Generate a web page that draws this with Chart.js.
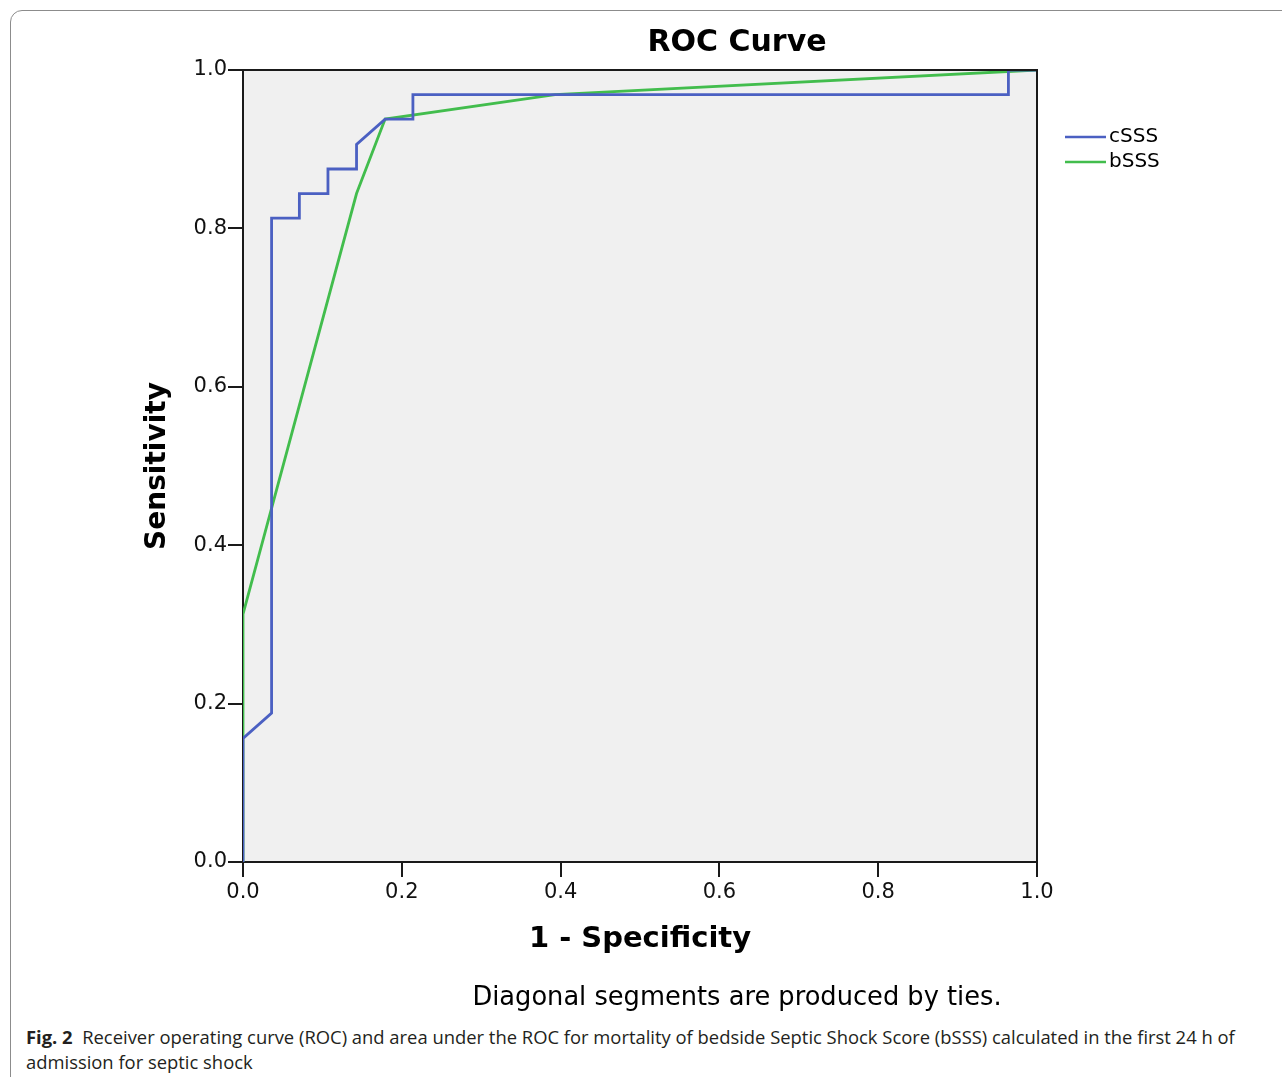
<!DOCTYPE html>
<html>
<head>
<meta charset="utf-8">
<title>ROC Curve</title>
<script src="https://cdn.jsdelivr.net/npm/chart.js@4.4.1/dist/chart.umd.min.js"></script>
<style>
    html, body { margin: 0; padding: 0; background: #fff; }
    body { width: 1282px; height: 1077px; position: relative; overflow: hidden; }
    #frame {
        position: absolute; left: 10px; top: 10px; width: 1300px; height: 1100px;
        border: 1px solid #8c8c8c; border-radius: 12px;
    }
    #wrap { position: absolute; left: 0; top: 0; width: 1282px; height: 1020px; }
    #caption {
        position: absolute; left: 26px; top: 1024px;
        font-family: 'Open Sans', sans-serif; font-size: 18.4px; line-height: 25px;
        color: #231f20; white-space: nowrap;
    }
    #caption b { font-weight: 700; }
</style>
</head>
<body>
<div id="frame"></div>
<div id="wrap"><canvas id="roc" width="1282" height="1020"></canvas></div>
<div id="caption"><b>Fig. 2</b>&nbsp; Receiver operating curve (ROC) and area under the ROC for mortality of bedside Septic Shock Score (bSSS) calculated in the first 24 h of<br>admission for septic shock</div>

<script>
// ROC points (1 - specificity, sensitivity)
const cSSSx = [0, 0, 0.036, 0.036, 0.071, 0.071, 0.107, 0.107, 0.143, 0.143, 0.179, 0.214, 0.214, 0.964, 0.964, 1];
const cSSSy = [0, 0.156, 0.188, 0.813, 0.813, 0.844, 0.844, 0.875, 0.875, 0.906, 0.938, 0.938, 0.969, 0.969, 1, 1];

const bSSSx = [0, 0, 0.143, 0.179, 0.393, 1];
const bSSSy = [0, 0.313, 0.844, 0.938, 0.969, 1];

const seriesNames = ['cSSS', 'bSSS'];
const seriesColors = ['#4b60c2', '#42bd4d'];
const tickValues = [0, 0.2, 0.4, 0.6, 0.8, 1.0];

const FONT = "'DejaVu Sans', sans-serif";
const INK = '#1a1a1a';

function toPoints(xs, ys) {
    return xs.map((x, i) => ({ x: x, y: ys[i] }));
}

// SPSS style: grey plot box, frame, title, legend and footnote
const spssFrame = {
    id: 'spssFrame',
    beforeDraw(chart) {
        const { ctx, chartArea: a } = chart;
        ctx.save();
        ctx.fillStyle = '#f0f0f0';
        ctx.fillRect(a.left, a.top, a.right - a.left, a.bottom - a.top);
        ctx.restore();
    },
    afterDraw(chart, args, opts) {
        const { ctx, chartArea: a } = chart;
        ctx.save();
        ctx.strokeStyle = INK;
        ctx.lineWidth = 2;
        ctx.beginPath();
        ctx.moveTo(a.left, a.top);
        ctx.lineTo(a.right, a.top);
        ctx.lineTo(a.right, a.bottom);
        ctx.stroke();

        ctx.fillStyle = '#000';
        ctx.textAlign = 'center';
        ctx.textBaseline = 'middle';
        ctx.font = 'bold 30px ' + FONT;
        ctx.fillText(opts.title, opts.titleX, opts.titleY);

        ctx.font = '25.7px ' + FONT;
        ctx.fillText(opts.footnote, opts.titleX, opts.footY);

        // legend
        ctx.textAlign = 'left';
        ctx.font = '20px ' + FONT;
        chart.data.datasets.forEach((ds, i) => {
            const y = opts.legendY + i * 25;
            ctx.strokeStyle = ds.borderColor;
            ctx.lineWidth = 2.5;
            ctx.beginPath();
            ctx.moveTo(opts.legendX, y);
            ctx.lineTo(opts.legendX + 41, y);
            ctx.stroke();
            ctx.fillStyle = '#000';
            ctx.fillText(ds.label, opts.legendX + 44, y);
        });
        ctx.restore();
    }
};

const axisCommon = {
    type: 'linear',
    min: 0,
    max: 1,
    border: { display: true, color: INK, width: 2 },
    grid: {
        display: true,
        drawOnChartArea: false,
        drawTicks: true,
        tickLength: 15,
        color: INK,
        lineWidth: 2
    },
    afterBuildTicks: (scale) => {
        scale.ticks = tickValues.map(v => ({ value: v }));
    }
};

new Chart(document.getElementById('roc'), {
    type: 'scatter',
    data: {
        datasets: [
            {
                label: seriesNames[0],
                data: toPoints(cSSSx, cSSSy),
                borderColor: seriesColors[0],
                backgroundColor: seriesColors[0]
            },
            {
                label: seriesNames[1],
                data: toPoints(bSSSx, bSSSy),
                borderColor: seriesColors[1],
                backgroundColor: seriesColors[1]
            }
        ]
    },
    options: {
        responsive: false,
        animation: false,
        showLine: true,
        elements: {
            point: { radius: 0, hoverRadius: 0 },
            line: { borderWidth: 2.8, tension: 0 }
        },
        layout: {
            padding: { left: 130, right: 245, top: 70, bottom: 58 }
        },
        plugins: {
            legend: { display: false },
            title: { display: false },
            tooltip: { enabled: false },
            spssFrame: {
                title: 'ROC Curve',
                titleX: 737,
                titleY: 43,
                footnote: 'Diagonal segments are produced by ties.',
                footY: 998,
                legendX: 1065,
                legendY: 137
            }
        },
        scales: {
            x: Object.assign({}, axisCommon, {
                position: 'bottom',
                ticks: {
                    color: '#111',
                    padding: 3,
                    font: { family: FONT, size: 21 },
                    callback: v => v.toFixed(1)
                },
                title: {
                    display: true,
                    text: '1 - Specificity',
                    color: '#000',
                    font: { family: FONT, size: 29, weight: 'bold' },
                    padding: { top: 0, bottom: 5 }
                },
                afterFit: (scale) => { scale.height = 100; }
            }),
            y: Object.assign({}, axisCommon, {
                position: 'left',
                ticks: {
                    color: '#111',
                    padding: 1,
                    font: { family: FONT, size: 21 },
                    callback: v => v.toFixed(1)
                },
                title: {
                    display: true,
                    text: 'Sensitivity',
                    color: '#000',
                    font: { family: FONT, size: 28, weight: 'bold' },
                    padding: { top: 11, bottom: 0 }
                },
                afterFit: (scale) => { scale.width = 113; }
            })
        }
    },
    plugins: [spssFrame]
});
</script>
</body>
</html>
